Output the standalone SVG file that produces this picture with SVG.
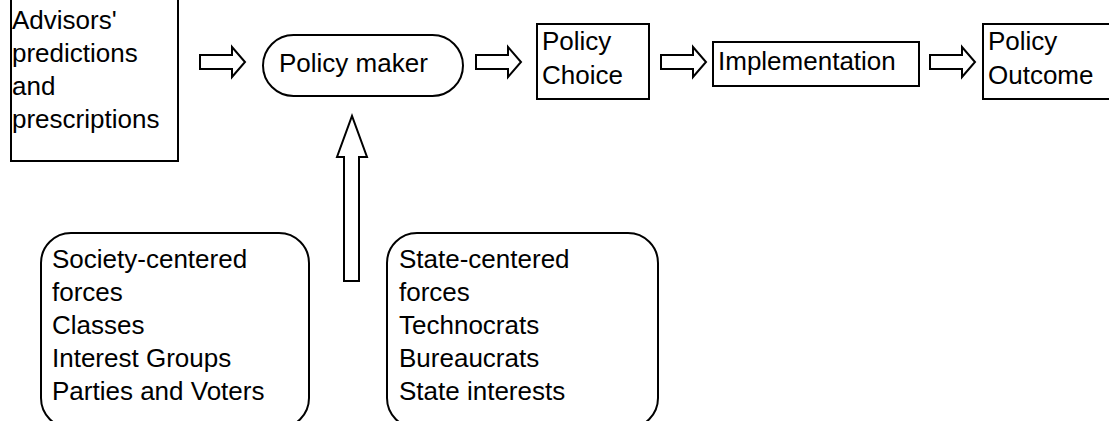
<svg xmlns="http://www.w3.org/2000/svg" width="1109" height="421" viewBox="0 0 1109 421">
<style>
.box{fill:#fff;stroke:#000;stroke-width:2}
.arr{fill:#fff;stroke:#000;stroke-width:2;stroke-linejoin:miter}
text{font-family:"Liberation Sans",Arial,sans-serif;font-size:26px;fill:#000}
</style>
<rect width="1109" height="421" fill="#fff"/>
<g id="connectors">
<path class="arr" d="M200,55 H232 V47 L245,62 L232,77 V69 H200 Z"/>
<path class="arr" d="M476,55 H508 V47 L521,62 L508,77 V69 H476 Z"/>
<path class="arr" d="M661,55 H693 V47 L706,62 L693,77 V69 H661 Z"/>
<path class="arr" d="M930,55 H962 V47 L975,62 L962,77 V69 H930 Z"/>
<path class="arr" d="M344,281 V157 H337 L352,116 L367,157 H359 V281 Z"/>
</g>
<g id="advisors">
<rect class="box" x="11" y="-2" width="167" height="163"/>
<text x="12" y="29">Advisors'</text>
<text x="12" y="62">predictions</text>
<text x="12" y="95">and</text>
<text x="12" y="128">prescriptions</text>
</g>
<g id="policy-maker">
<rect class="box" x="263" y="35" width="200" height="61" rx="30.5"/>
<text x="279" y="72">Policy maker</text>
</g>
<g id="policy-choice">
<rect class="box" x="537" y="24" width="112" height="75"/>
<text x="542" y="50">Policy</text>
<text x="542" y="84">Choice</text>
</g>
<g id="implementation">
<rect class="box" x="713" y="42" width="206" height="44"/>
<text x="718" y="70">Implementation</text>
</g>
<g id="policy-outcome">
<rect class="box" x="983" y="24" width="140" height="75"/>
<text x="988" y="50">Policy</text>
<text x="988" y="84">Outcome</text>
</g>
<g id="society">
<rect class="box" x="41" y="233" width="268" height="195" rx="30"/>
<text x="52" y="268">Society-centered</text>
<text x="52" y="301">forces</text>
<text x="52" y="334">Classes</text>
<text x="52" y="367">Interest Groups</text>
<text x="52" y="400">Parties and Voters</text>
</g>
<g id="state">
<rect class="box" x="387" y="233" width="271" height="195" rx="30"/>
<text x="399" y="268">State-centered</text>
<text x="399" y="301">forces</text>
<text x="399" y="334">Technocrats</text>
<text x="399" y="367">Bureaucrats</text>
<text x="399" y="400">State interests</text>
</g>
</svg>
